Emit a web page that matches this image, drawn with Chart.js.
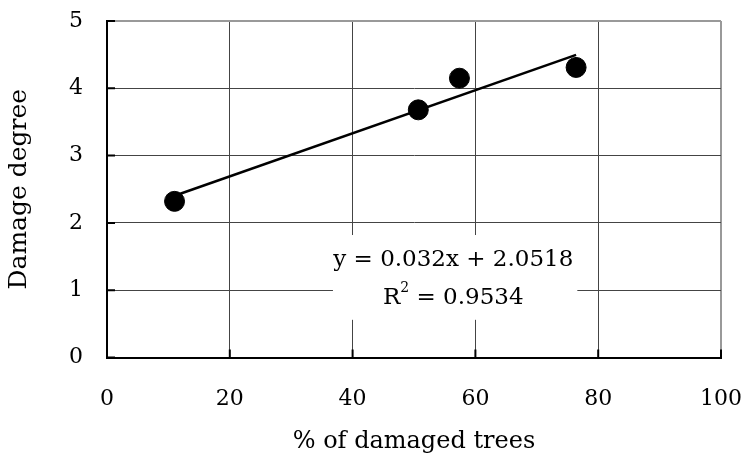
<!DOCTYPE html>
<html lang="en">
<head>
    <meta charset="UTF-8">
    <title>Damage degree vs % of damaged trees</title>
    <script src="https://cdn.jsdelivr.net/npm/chart.js"></script>
    <style>
        body { margin: 0; background: #fff; }
        canvas { display: block; }
    </style>
</head>
<body>
    <canvas id="damageChart" width="747" height="464"></canvas>

    <script>
        // Values
        const damagedPct = [11, 50.7, 57.4, 76.4];
        const damageDegree = [2.32, 3.68, 4.15, 4.31];

        // Trend line end points (as drawn in the picture)
        const trendX = [11, 76.4];
        const trendY = [2.404, 4.497];

        const xTicks = [0, 20, 40, 60, 80, 100];
        const yTicks = [0, 1, 2, 3, 4, 5];

        const equationText = 'y = 0.032x + 2.0518';
        const rSquaredText = '0.9534';

        const FONT = '"DejaVu Serif", serif';

        // White box with the regression equation, plus the inward tick marks
        const extras = {
            id: 'extras',
            beforeDatasetsDraw(chart) {
                const { ctx, scales: { x, y } } = chart;
                const left = x.getPixelForValue(36.8);
                const right = x.getPixelForValue(76.6);
                const top = y.getPixelForValue(1.82);
                const bottom = y.getPixelForValue(0.56);
                ctx.save();
                ctx.fillStyle = '#fff';
                ctx.fillRect(left, top, right - left, bottom - top);

                ctx.fillStyle = '#000';
                ctx.textBaseline = 'middle';
                ctx.textAlign = 'center';
                const cx = x.getPixelForValue(56.4);
                ctx.font = '23px ' + FONT;
                ctx.fillText(equationText, cx, y.getPixelForValue(1.45));

                // R² line, drawn in pieces for the superscript
                const yLine = y.getPixelForValue(0.89);
                const tail = ' = ' + rSquaredText;
                ctx.font = '23px ' + FONT;
                const wR = ctx.measureText('R').width;
                const wTail = ctx.measureText(tail).width;
                ctx.font = '14px ' + FONT;
                const wSup = ctx.measureText('2').width;
                const sx = cx - (wR + wSup + wTail) / 2;
                ctx.textAlign = 'left';
                ctx.font = '23px ' + FONT;
                ctx.fillText('R', sx, yLine);
                ctx.font = '14px ' + FONT;
                ctx.fillText('2', sx + wR, yLine - 9);
                ctx.font = '23px ' + FONT;
                ctx.fillText(tail, sx + wR + wSup, yLine);

                // inward ticks
                ctx.strokeStyle = '#000';
                ctx.lineWidth = 2;
                ctx.beginPath();
                yTicks.forEach(v => {
                    const py = y.getPixelForValue(v);
                    ctx.moveTo(x.left, py);
                    ctx.lineTo(x.left + 8, py);
                });
                xTicks.forEach(v => {
                    const px = x.getPixelForValue(v);
                    ctx.moveTo(px, y.bottom);
                    ctx.lineTo(px, y.bottom - 8);
                });
                ctx.stroke();
                ctx.restore();
            }
        };

        const noOverflow = s => {
            s.paddingLeft = 0; s.paddingRight = 0;
            s.paddingTop = 0; s.paddingBottom = 0;
        };

        const ctx = document.getElementById('damageChart').getContext('2d');
        new Chart(ctx, {
            type: 'scatter',
            data: {
                datasets: [{
                    label: 'Observed',
                    data: damagedPct.map((v, i) => ({ x: v, y: damageDegree[i] })),
                    backgroundColor: '#000',
                    borderColor: '#000',
                    pointRadius: 10,
                    order: 1
                }, {
                    label: 'Linear trend',
                    type: 'line',
                    data: trendX.map((v, i) => ({ x: v, y: trendY[i] })),
                    borderColor: '#000',
                    borderWidth: 2.5,
                    pointRadius: 0,
                    fill: false,
                    tension: 0,
                    order: 2
                }]
            },
            options: {
                responsive: false,
                animation: false,
                layout: { padding: { top: 21, right: 26, left: 0, bottom: 0 } },
                plugins: {
                    legend: { display: false },
                    tooltip: { enabled: false }
                },
                scales: {
                    x: {
                        type: 'linear',
                        min: 0,
                        max: 100,
                        afterBuildTicks: s => { s.ticks = xTicks.map(v => ({ value: v })); },
                        afterFit: s => { s.height = 106.5; noOverflow(s); },
                        border: { color: '#000', width: 2 },
                        grid: {
                            drawTicks: false,
                            color: c => c.tick && c.tick.value === 100 ? '#999' : '#444',
                            lineWidth: c => c.tick && c.tick.value === 100 ? 2 : 1
                        },
                        ticks: {
                            padding: 29,
                            color: '#000',
                            font: { family: FONT, size: 22 }
                        },
                        title: {
                            display: true,
                            text: '% of damaged trees',
                            color: '#000',
                            font: { family: FONT, size: 24 },
                            padding: { top: 0, bottom: 8 }
                        }
                    },
                    y: {
                        min: 0,
                        max: 5,
                        afterBuildTicks: s => { s.ticks = yTicks.map(v => ({ value: v })); },
                        afterFit: s => { s.width = 107; noOverflow(s); },
                        border: { color: '#000', width: 2 },
                        grid: {
                            drawTicks: false,
                            color: c => c.tick && c.tick.value === 5 ? '#999' : '#444',
                            lineWidth: c => c.tick && c.tick.value === 5 ? 2 : 1
                        },
                        ticks: {
                            padding: 24,
                            color: '#000',
                            font: { family: FONT, size: 22 }
                        },
                        title: {
                            display: true,
                            text: 'Damage degree',
                            color: '#000',
                            font: { family: FONT, size: 25 },
                            padding: { top: 4, bottom: 0 }
                        }
                    }
                }
            },
            plugins: [extras]
        });
    </script>
</body>
</html>
